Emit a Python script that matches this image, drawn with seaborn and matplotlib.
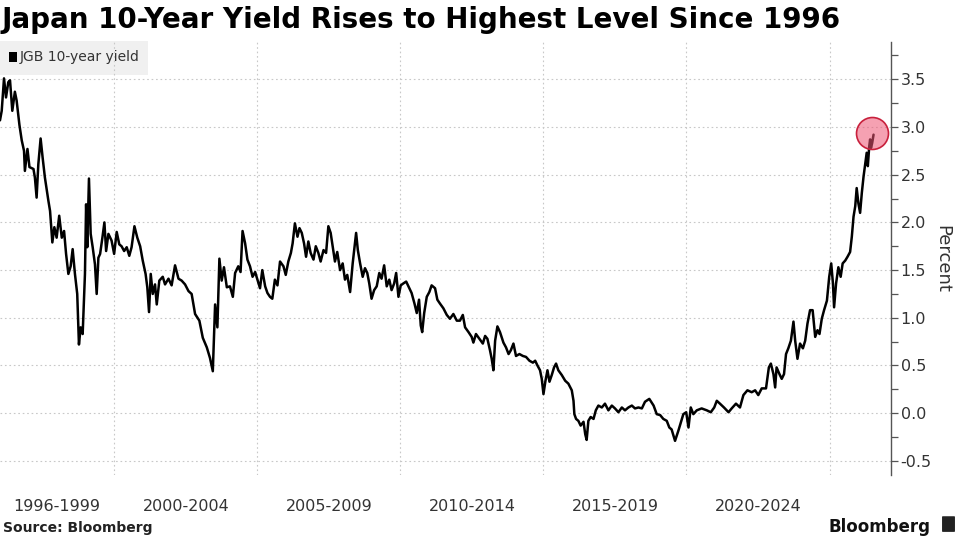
import matplotlib
matplotlib.use("Agg")
import matplotlib.pyplot as plt
import matplotlib.patches as mpatches
import numpy as np
import pandas as pd
import seaborn as sns

# ---------------- data ----------------
years_a = [1996.00, 1996.06, 1996.14, 1996.21, 1996.29, 1996.35, 1996.43, 1996.52, 1996.58, 1996.68,
           1996.76, 1996.84, 1996.87, 1996.96, 1997.03, 1997.17, 1997.22, 1997.28, 1997.34, 1997.42,
           1997.49, 1997.57, 1997.69, 1997.75, 1997.83, 1997.90, 1997.98, 1998.07, 1998.16, 1998.24,
           1998.31, 1998.39, 1998.47, 1998.54, 1998.62, 1998.70, 1998.76, 1998.82, 1998.89, 1998.97,
           1999.01, 1999.05, 1999.11, 1999.17, 1999.24, 1999.32, 1999.38, 1999.44, 1999.50, 1999.58,
           1999.65, 1999.71, 1999.79, 1999.90, 1999.99, 2000.08, 2000.17, 2000.25, 2000.34, 2000.43,
           2000.52, 2000.60, 2000.70, 2000.80, 2000.90, 2000.99, 2001.09, 2001.15, 2001.21, 2001.27,
           2001.34, 2001.42, 2001.48, 2001.57, 2001.69, 2001.77, 2001.89, 2002.00, 2002.12, 2002.24,
           2002.35, 2002.47, 2002.59, 2002.70, 2002.82, 2002.97, 2003.09, 2003.23, 2003.34, 2003.44,
           2003.52, 2003.60, 2003.67, 2003.75, 2003.83, 2003.93]
values_a = [3.07, 3.17, 3.51, 3.31, 3.47, 3.49, 3.17, 3.37, 3.28, 3.02,
            2.86, 2.75, 2.54, 2.77, 2.58, 2.56, 2.47, 2.26, 2.61, 2.88,
            2.68, 2.47, 2.23, 2.12, 1.79, 1.95, 1.84, 2.07, 1.84, 1.91,
            1.67, 1.46, 1.54, 1.72, 1.46, 1.25, 0.72, 0.90, 0.83, 1.46,
            2.19, 1.74, 2.46, 1.88, 1.74, 1.56, 1.25, 1.63, 1.67, 1.84,
            2.00, 1.70, 1.88, 1.81, 1.67, 1.90, 1.77, 1.75, 1.70, 1.74,
            1.65, 1.74, 1.96, 1.84, 1.75, 1.60, 1.46, 1.32, 1.06, 1.46,
            1.25, 1.35, 1.14, 1.39, 1.43, 1.35, 1.41, 1.34, 1.55, 1.41,
            1.39, 1.35, 1.28, 1.25, 1.04, 0.97, 0.79, 0.69, 0.58, 0.44,
            1.14, 0.90, 1.62, 1.39, 1.53, 1.32]

years_b = [2004.04, 2004.14, 2004.22, 2004.33, 2004.41, 2004.48, 2004.57, 2004.65, 2004.74, 2004.83,
           2004.92, 2005.00, 2005.09, 2005.17, 2005.27, 2005.35, 2005.44, 2005.52, 2005.61, 2005.70,
           2005.79, 2005.91, 2005.99, 2006.08, 2006.17, 2006.23, 2006.31, 2006.40, 2006.47, 2006.55,
           2006.63, 2006.70, 2006.78, 2006.86, 2006.96, 2007.04, 2007.13, 2007.21, 2007.31, 2007.40,
           2007.48, 2007.56, 2007.65, 2007.71, 2007.79, 2007.89, 2007.98, 2008.06, 2008.14, 2008.24,
           2008.33, 2008.45, 2008.51, 2008.59, 2008.68, 2008.76, 2008.84, 2008.91, 2008.99, 2009.08,
           2009.17, 2009.26, 2009.34, 2009.43, 2009.52, 2009.61, 2009.69, 2009.78, 2009.85, 2009.93,
           2010.01, 2010.10, 2010.20, 2010.28, 2010.39, 2010.49, 2010.57, 2010.65, 2010.71, 2010.76,
           2010.83, 2010.92, 2011.01, 2011.09, 2011.21, 2011.29, 2011.38, 2011.50, 2011.62, 2011.73]
values_b = [1.33, 1.22, 1.47, 1.54, 1.48, 1.91, 1.78, 1.61, 1.54, 1.43,
            1.48, 1.40, 1.31, 1.50, 1.33, 1.26, 1.22, 1.20, 1.40, 1.34,
            1.59, 1.54, 1.45, 1.59, 1.68, 1.78, 1.99, 1.85, 1.94, 1.89,
            1.78, 1.64, 1.80, 1.68, 1.61, 1.75, 1.68, 1.59, 1.71, 1.68,
            1.96, 1.89, 1.71, 1.59, 1.69, 1.50, 1.57, 1.40, 1.45, 1.27,
            1.57, 1.89, 1.71, 1.57, 1.43, 1.52, 1.47, 1.36, 1.20, 1.29,
            1.33, 1.47, 1.41, 1.55, 1.33, 1.40, 1.29, 1.36, 1.47, 1.22,
            1.34, 1.36, 1.38, 1.33, 1.26, 1.15, 1.05, 1.19, 0.92, 0.85,
            1.05, 1.22, 1.27, 1.34, 1.31, 1.19, 1.15, 1.10, 1.03, 0.99]

years_c = [2011.85, 2011.97, 2012.08, 2012.18, 2012.26, 2012.38, 2012.49, 2012.55, 2012.64, 2012.76,
           2012.88, 2012.96, 2013.04, 2013.13, 2013.19, 2013.25, 2013.31, 2013.39, 2013.48, 2013.60,
           2013.69, 2013.78, 2013.86, 2013.95, 2014.04, 2014.16, 2014.28, 2014.39, 2014.51, 2014.63,
           2014.71, 2014.79, 2014.88, 2014.94, 2015.00, 2015.07, 2015.14, 2015.21, 2015.29, 2015.37,
           2015.44, 2015.52, 2015.64, 2015.76, 2015.87, 2015.99, 2016.05, 2016.08, 2016.14, 2016.22,
           2016.30, 2016.40, 2016.46, 2016.51, 2016.57, 2016.65, 2016.75, 2016.83, 2016.92, 2017.04,
           2017.15, 2017.27, 2017.39, 2017.50, 2017.62, 2017.74, 2017.85, 2017.97, 2018.09, 2018.20,
           2018.32, 2018.44, 2018.55, 2018.70, 2018.85, 2018.96, 2019.08, 2019.19, 2019.31, 2019.40]
values_c = [1.04, 0.97, 0.97, 1.03, 0.90, 0.85, 0.80, 0.74, 0.83, 0.78,
            0.73, 0.81, 0.78, 0.66, 0.57, 0.45, 0.76, 0.91, 0.85, 0.74,
            0.69, 0.62, 0.66, 0.73, 0.60, 0.62, 0.60, 0.59, 0.55, 0.53,
            0.55, 0.50, 0.45, 0.36, 0.20, 0.34, 0.45, 0.33, 0.40, 0.48,
            0.52, 0.45, 0.40, 0.34, 0.31, 0.24, 0.13, -0.01, -0.06, -0.08,
            -0.13, -0.09, -0.22, -0.28, -0.08, -0.04, -0.06, 0.03, 0.08, 0.06,
            0.10, 0.03, 0.08, 0.05, 0.01, 0.06, 0.03, 0.06, 0.08, 0.05,
            0.06, 0.05, 0.12, 0.15, 0.08, -0.01, -0.02, -0.06, -0.08, -0.15]

years_d = [2019.48, 2019.60, 2019.72, 2019.80, 2019.89, 2019.99, 2020.07, 2020.15, 2020.24, 2020.36,
           2020.53, 2020.71, 2020.85, 2020.97, 2021.06, 2021.17, 2021.31, 2021.47, 2021.58, 2021.73,
           2021.87, 2021.99, 2022.13, 2022.28, 2022.40, 2022.51, 2022.63, 2022.78, 2022.88, 2022.95,
           2023.04, 2023.10, 2023.15, 2023.25, 2023.33, 2023.41, 2023.48, 2023.56, 2023.65, 2023.74,
           2023.80, 2023.88, 2023.97, 2024.07, 2024.15, 2024.23, 2024.32, 2024.41, 2024.50, 2024.58,
           2024.65, 2024.73, 2024.81, 2024.91, 2024.99, 2025.06, 2025.12, 2025.16, 2025.23, 2025.31,
           2025.39, 2025.46, 2025.55, 2025.63, 2025.72, 2025.78, 2025.84, 2025.90, 2025.95, 2026.01,
           2026.07, 2026.13, 2026.19, 2026.25, 2026.30, 2026.34, 2026.39, 2026.42, 2026.45, 2026.49,
           2026.54]
values_d = [-0.17, -0.29, -0.18, -0.10, -0.01, 0.01, -0.15, 0.06, -0.01, 0.03,
            0.05, 0.03, 0.01, 0.06, 0.13, 0.10, 0.06, 0.01, 0.05, 0.10,
            0.06, 0.19, 0.24, 0.22, 0.24, 0.19, 0.26, 0.26, 0.48, 0.52,
            0.41, 0.27, 0.48, 0.41, 0.36, 0.41, 0.62, 0.68, 0.76, 0.96,
            0.76, 0.57, 0.73, 0.68, 0.76, 0.94, 1.08, 1.08, 0.80, 0.87,
            0.83, 0.99, 1.08, 1.18, 1.43, 1.57, 1.36, 1.11, 1.36, 1.53,
            1.43, 1.57, 1.60, 1.64, 1.69, 1.85, 2.06, 2.17, 2.36, 2.20,
            2.10, 2.31, 2.48, 2.62, 2.73, 2.59, 2.80, 2.87, 2.78, 2.83,
            2.92]

series_name = "JGB 10-year yield"
period_labels = ["1996-1999", "2000-2004", "2005-2009", "2010-2014", "2015-2019", "2020-2024"]
period_bounds = [1996, 2000, 2005, 2010, 2015, 2020, 2025]
y_ticks = [-0.5, 0.0, 0.5, 1.0, 1.5, 2.0, 2.5, 3.0, 3.5]

df = pd.DataFrame({
    "year": years_a + years_b + years_c + years_d,
    "value": values_a + values_b + values_c + values_d,
})

# ---------------- figure ----------------
sns.set_style("white")
plt.rcParams["font.family"] = ["DejaVu Sans"]

fig = plt.figure(figsize=(9.6, 5.4), dpi=100)
ax = fig.add_axes([0.0, 0.120, 891 / 960, 0.802])

grid_kw = dict(color="#c8c8c8", lw=0.8, ls=(0, (1.5, 2.5)), zorder=1)
for b in period_bounds[1:]:
    ax.axvline(b, **grid_kw)
for t in y_ticks:
    ax.axhline(t, **grid_kw)

sns.lineplot(data=df, x="year", y="value", ax=ax, color="black", lw=1.8,
             zorder=3, legend=False, estimator=None, sort=True)

last = df.iloc[-1]
ax.scatter([last["year"] - 0.05], [last["value"] + 0.02], s=530,
           facecolor=(0.93, 0.33, 0.45, 0.55), edgecolor="#c8203c",
           linewidth=1.2, zorder=4)

ax.set_xlim(1996.0, 2027.15)
ax.set_ylim(-0.65, 3.89)

# y axis on right
ax.yaxis.tick_right()
ax.yaxis.set_label_position("right")
ax.set_yticks(y_ticks)
ax.set_yticklabels([f"{t:.1f}" for t in y_ticks])
ax.set_yticks(np.arange(-0.5, 3.76, 0.25), minor=True)
ax.tick_params(axis="y", which="both", direction="out", length=5, width=0.9,
               color="#555555", labelsize=11.5, labelcolor="#333333", pad=2,
               right=True, left=False)
ax.set_ylabel("Percent", rotation=270, labelpad=14, fontsize=13, color="#333333")

# x axis period labels
centers = [(period_bounds[i] + period_bounds[i + 1]) / 2 for i in range(len(period_labels))]
ax.set_xticks(centers)
ax.set_xticklabels(period_labels)
ax.tick_params(axis="x", which="both", length=0, labelsize=11.5, labelcolor="#333333", pad=17)
ax.set_xlabel("")

for s in ["top", "left", "bottom"]:
    ax.spines[s].set_visible(False)
ax.spines["right"].set_color("#555555")
ax.spines["right"].set_linewidth(1.0)

# legend box
ax.add_patch(mpatches.Rectangle((0.0, 0.925), 148 / 891, 0.078, transform=ax.transAxes,
                                facecolor="#f0f0f0", edgecolor="none", zorder=0.5,
                                clip_on=False))
ax.add_patch(mpatches.Rectangle((9 / 891, 0.955), 8 / 891, 0.022, transform=ax.transAxes,
                                facecolor="black", edgecolor="none", zorder=5, clip_on=False))
ax.text(20 / 891, 0.965, series_name, transform=ax.transAxes, fontsize=10,
        color="#333333", va="center", ha="left", zorder=5)

# titles and footer
fig.text(0.002, 0.963, "Japan 10-Year Yield Rises to Highest Level Since 1996",
         fontsize=20, fontweight="bold", color="black", va="center", ha="left")
fig.text(0.003, 0.022, "Source: Bloomberg", fontsize=10, fontweight="bold",
         color="#222222", va="center", ha="left")
fig.text(0.969, 0.025, "Bloomberg", fontsize=12, fontweight="semibold",
         color="#111111", va="center", ha="right")
fig.patches.append(mpatches.FancyBboxPatch((943 / 960, 0.016), 11 / 960, 0.027,
                                           boxstyle="round,pad=0.001", transform=fig.transFigure,
                                           facecolor="#222222", edgecolor="none"))

fig.savefig("out.png", dpi=100)
